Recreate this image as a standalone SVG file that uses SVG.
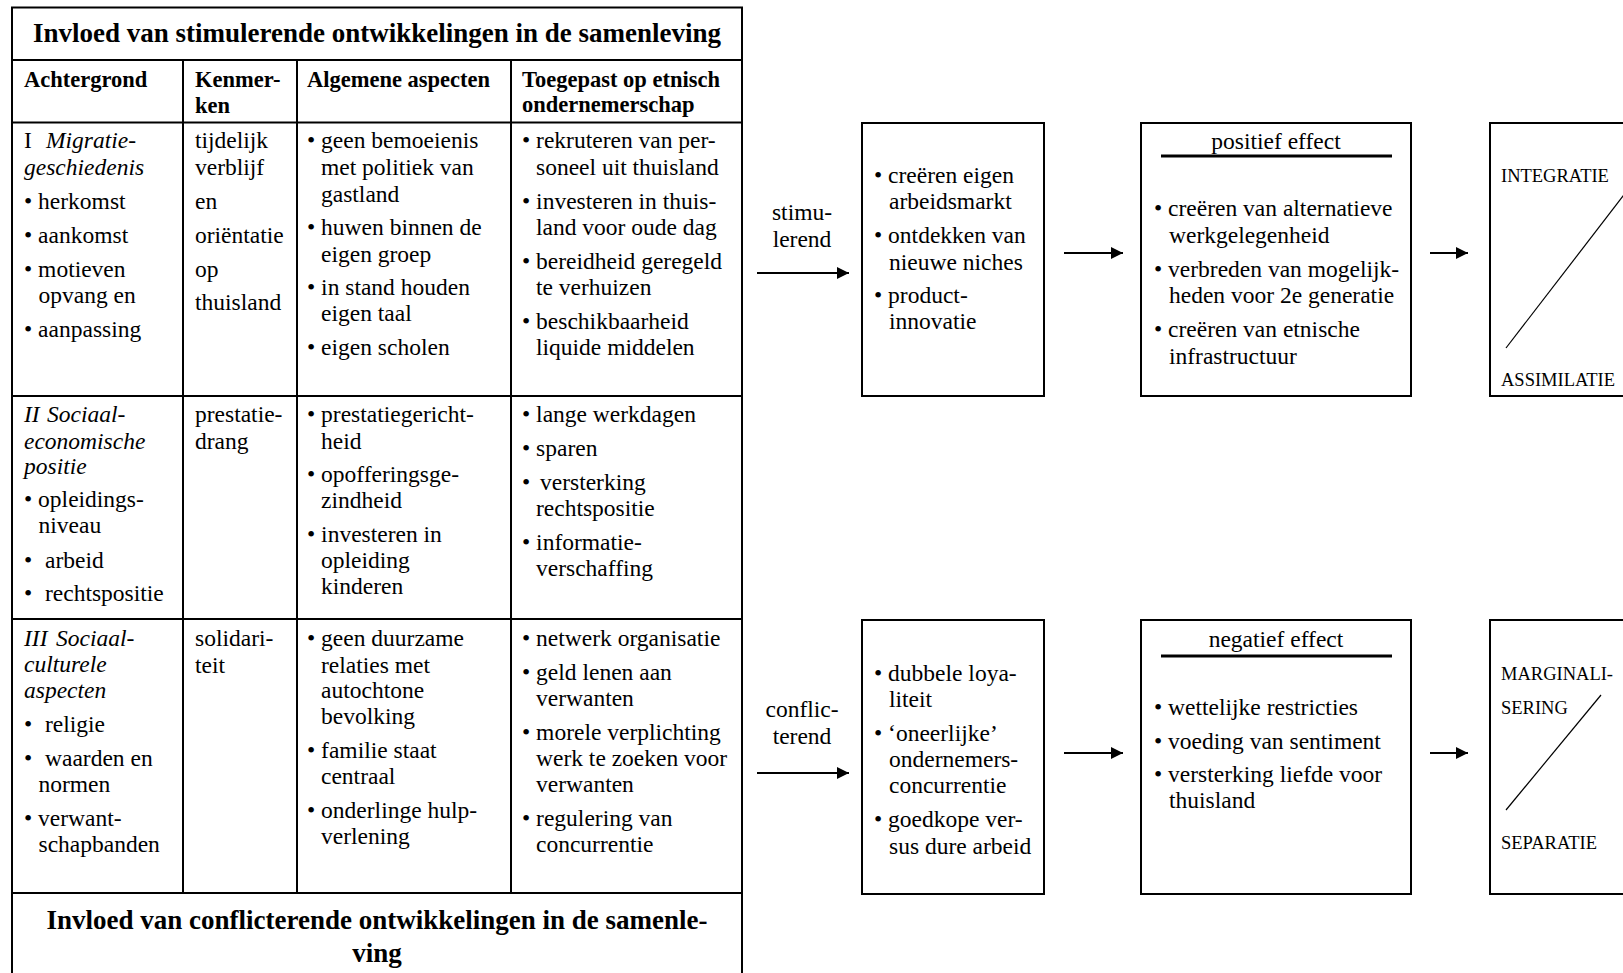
<svg xmlns="http://www.w3.org/2000/svg" width="1623" height="973" viewBox="0 0 1623 973">
<defs>
<style>
text{font-family:"Liberation Serif","Times New Roman",serif;font-size:23.5px;fill:#000}
.b{font-weight:bold;font-size:22.5px}
.h{font-weight:bold;font-size:27px;text-anchor:middle}
.i{font-style:italic}
.s{font-size:18.5px}
.c{text-anchor:middle}
.ln{stroke:#000;stroke-width:2;fill:none}
.box{stroke:#000;stroke-width:2;fill:#fff}
.dg{stroke:#000;stroke-width:1.2}
.ar{stroke:#000;stroke-width:2;marker-end:url(#ah)}
</style>
<marker id="ah" viewBox="0 0 12 12" refX="12" refY="6" markerWidth="12" markerHeight="12" orient="auto" markerUnits="userSpaceOnUse"><path d="M0,0 L12,6 L0,12 z" fill="#000"/></marker>
</defs>
<rect width="1623" height="973" fill="#fff"/>

<g id="table">
<rect x="12" y="7.5" width="730" height="990" class="ln"/>
<path class="ln" d="M12,60H742M12,122.5H742M12,396H742M12,619H742M12,893H742M183,60V893M297,60V893M511,60V893"/>
<text class="h" x="377" y="41.5">Invloed van stimulerende ontwikkelingen in de samenleving</text>
<text class="b" x="24" y="87">Achtergrond</text>
<text class="b" x="195" y="87">Kenmer-</text>
<text class="b" x="195" y="113">ken</text>
<text class="b" x="307" y="87">Algemene aspecten</text>
<text class="b" x="522" y="87">Toegepast op etnisch</text>
<text class="b" x="522" y="112">ondernemerschap</text>

<text x="24" y="148">I<tspan x="46" class="i">Migratie-</tspan></text>
<text x="24" y="175" class="i">geschiedenis</text>
<text x="24" y="209">• herkomst</text>
<text x="24" y="243">• aankomst</text>
<text x="24" y="277">• motieven</text>
<text x="38.5" y="303">opvang en</text>
<text x="24" y="337">• aanpassing</text>

<text x="195" y="148">tijdelijk</text>
<text x="195" y="175">verblijf</text>
<text x="195" y="209">en</text>
<text x="195" y="243">oriëntatie</text>
<text x="195" y="277">op</text>
<text x="195" y="310">thuisland</text>

<text x="307" y="148">• geen bemoeienis</text>
<text x="321" y="175">met politiek van</text>
<text x="321" y="202">gastland</text>
<text x="307" y="235">• huwen binnen de</text>
<text x="321" y="262">eigen groep</text>
<text x="307" y="295">• in stand houden</text>
<text x="321" y="321">eigen taal</text>
<text x="307" y="355">• eigen scholen</text>

<text x="522" y="148">• rekruteren van per-</text>
<text x="536" y="175">soneel uit thuisland</text>
<text x="522" y="209">• investeren in thuis-</text>
<text x="536" y="235">land voor oude dag</text>
<text x="522" y="269">• bereidheid geregeld</text>
<text x="536" y="295">te verhuizen</text>
<text x="522" y="329">• beschikbaarheid</text>
<text x="536" y="355">liquide middelen</text>

<text x="24" y="422" class="i">II<tspan x="47">Sociaal-</tspan></text>
<text x="24" y="449" class="i">economische</text>
<text x="24" y="474" class="i">positie</text>
<text x="24" y="507">• opleidings-</text>
<text x="38.5" y="533">niveau</text>
<text x="24" y="568">•<tspan x="45">arbeid</tspan></text>
<text x="24" y="601">•<tspan x="45">rechtspositie</tspan></text>

<text x="195" y="422">prestatie-</text>
<text x="195" y="449">drang</text>

<text x="307" y="422">• prestatiegericht-</text>
<text x="321" y="449">heid</text>
<text x="307" y="482">• opofferingsge-</text>
<text x="321" y="508">zindheid</text>
<text x="307" y="542">• investeren in</text>
<text x="321" y="568">opleiding</text>
<text x="321" y="594">kinderen</text>

<text x="522" y="422">• lange werkdagen</text>
<text x="522" y="456">• sparen</text>
<text x="522" y="490">•<tspan x="540">versterking</tspan></text>
<text x="536" y="516">rechtspositie</text>
<text x="522" y="550">• informatie-</text>
<text x="536" y="576">verschaffing</text>

<text x="24" y="646" class="i">III<tspan x="56">Sociaal-</tspan></text>
<text x="24" y="672" class="i">culturele</text>
<text x="24" y="698" class="i">aspecten</text>
<text x="24" y="732">•<tspan x="45">religie</tspan></text>
<text x="24" y="766">•<tspan x="45">waarden en</tspan></text>
<text x="38.5" y="792">normen</text>
<text x="24" y="826">• verwant-</text>
<text x="38.5" y="852">schapbanden</text>

<text x="195" y="646">solidari-</text>
<text x="195" y="673">teit</text>

<text x="307" y="646">• geen duurzame</text>
<text x="321" y="673">relaties met</text>
<text x="321" y="698">autochtone</text>
<text x="321" y="724">bevolking</text>
<text x="307" y="758">• familie staat</text>
<text x="321" y="784">centraal</text>
<text x="307" y="818">• onderlinge hulp-</text>
<text x="321" y="844">verlening</text>

<text x="522" y="646">• netwerk organisatie</text>
<text x="522" y="680">• geld lenen aan</text>
<text x="536" y="706">verwanten</text>
<text x="522" y="740">• morele verplichting</text>
<text x="536" y="766">werk te zoeken voor</text>
<text x="536" y="792">verwanten</text>
<text x="522" y="826">• regulering van</text>
<text x="536" y="852">concurrentie</text>

<text class="h" x="377" y="929">Invloed van conflicterende ontwikkelingen in de samenle-</text>
<text class="h" x="377" y="962">ving</text>
</g>

<g id="label-stimulerend">
<text class="c" x="802" y="220">stimu-</text>
<text class="c" x="802" y="247">lerend</text>
</g>
<g id="label-conflicterend">
<text class="c" x="802" y="717">conflic-</text>
<text class="c" x="802" y="744">terend</text>
</g>

<g id="box-stimulerend">
<rect class="box" x="862" y="123" width="182" height="273"/>
<text x="874" y="182.5">• creëren eigen</text>
<text x="889" y="209">arbeidsmarkt</text>
<text x="874" y="242.5">• ontdekken van</text>
<text x="889" y="269.5">nieuwe niches</text>
<text x="874" y="303">• product-</text>
<text x="889" y="329">innovatie</text>
</g>

<g id="box-positief">
<rect class="box" x="1141" y="123" width="270" height="273"/>
<text class="c" x="1276" y="148.5">positief effect</text>
<path d="M1161,156H1392" stroke="#000" stroke-width="3"/>
<text x="1154" y="216">• creëren van alternatieve</text>
<text x="1169" y="242.5">werkgelegenheid</text>
<text x="1154" y="277">• verbreden van mogelijk-</text>
<text x="1169" y="303">heden voor 2e generatie</text>
<text x="1154" y="337">• creëren van etnische</text>
<text x="1169" y="363.5">infrastructuur</text>
</g>

<g id="box-integratie">
<rect class="box" x="1490" y="123" width="145" height="273"/>
<text class="s" x="1501" y="182">INTEGRATIE</text>
<text class="s" x="1501" y="386">ASSIMILATIE</text>
<line class="dg" x1="1506" y1="348" x2="1630" y2="187"/>
</g>

<g id="box-conflicterend">
<rect class="box" x="862" y="620" width="182" height="274"/>
<text x="874" y="680.5">• dubbele loya-</text>
<text x="889" y="706.5">liteit</text>
<text x="874" y="740.5">• ‘oneerlijke’</text>
<text x="889" y="767">ondernemers-</text>
<text x="889" y="793">concurrentie</text>
<text x="874" y="827">• goedkope ver-</text>
<text x="889" y="853.5">sus dure arbeid</text>
</g>

<g id="box-negatief">
<rect class="box" x="1141" y="620" width="270" height="274"/>
<text class="c" x="1276" y="646.5">negatief effect</text>
<path d="M1161,656H1392" stroke="#000" stroke-width="3"/>
<text x="1154" y="715">• wettelijke restricties</text>
<text x="1154" y="748.5">• voeding van sentiment</text>
<text x="1154" y="782">• versterking liefde voor</text>
<text x="1169" y="808">thuisland</text>
</g>

<g id="box-marginalisering">
<rect class="box" x="1490" y="620" width="145" height="274"/>
<text class="s" x="1501" y="680">MARGINALI-</text>
<text class="s" x="1501" y="714">SERING</text>
<text class="s" x="1501" y="849">SEPARATIE</text>
<line class="dg" x1="1506" y1="810" x2="1601" y2="695"/>
</g>

<g id="connectors">
<line class="ar" x1="757" y1="273" x2="849" y2="273"/>
<line class="ar" x1="1064" y1="253" x2="1123" y2="253"/>
<line class="ar" x1="1430" y1="253" x2="1468" y2="253"/>
<line class="ar" x1="757" y1="773" x2="849" y2="773"/>
<line class="ar" x1="1064" y1="753" x2="1123" y2="753"/>
<line class="ar" x1="1430" y1="753" x2="1468" y2="753"/>
</g>
</svg>
